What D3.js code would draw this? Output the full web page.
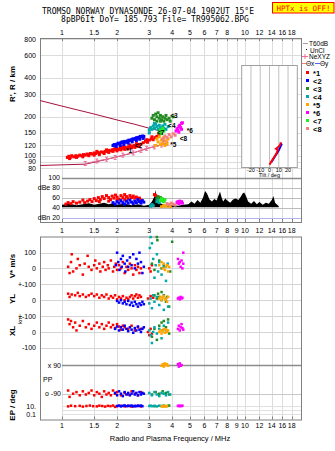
<!DOCTYPE html>
<html>
<head>
<meta charset="utf-8">
<script src="https://cdn.jsdelivr.net/npm/d3@7"></script>
<style>
  body { margin: 0; background: #fff; }
  svg { display: block; font-family: "Liberation Sans", Arial, sans-serif; }
</style>
</head>
<body>
<svg id="chart" width="335" height="451"></svg>
<script>
// ---- axis ticks ----
const freqTicksTop = [1, 1.5, 2, 3, 4, 5, 6, 7, 8, 10, 12, 14, 16, 18];
const freqTicks = [1, 1.5, 2, 3, 4, 5, 6, 7, 8, 9, 10, 12, 14, 16, 18];
const heightTicks = [800, 600, 400, 300, 200, 150, 120, 100, 90, 80];
const dbTicks = [{ v: 100, t: "100" }, { v: 80, t: "dBe 80" }, { v: 60, t: "60" }, { v: 40, t: "40" }, { v: 20, t: "dBn 20" }];
const tiltTicks = [-20, -10, 0, 10, 20];

// ---- model lines (freq MHz, height km) ----
const upperModel = [[0.76, 267], [1, 242], [1.5, 210], [2, 189], [2.5, 175], [3, 163], [3.4, 156]];
const lowerModel = [[0.76, 84], [1.34, 86], [1.55, 90], [2, 98], [2.5, 106], [3, 115], [3.5, 121], [3.8, 126]];
const neXYZ = [[1.34, 87], [1.55, 91], [1.75, 94], [1.95, 97], [2.15, 101], [2.45, 105], [2.7, 110], [2.9, 114], [3.2, 117], [3.5, 121], [3.75, 125]];

// ---- tilt inset (deg, height km) ----
const tiltRed = [[0, 85], [2, 90], [4, 95], [6, 100], [8, 106], [9, 111], [7, 113], [9, 116], [11, 120], [12, 124], [12, 127]];
const tiltBlue = [[2, 89], [4, 94], [6, 99], [8, 104], [10, 110], [11, 114], [12, 118], [13, 122], [12, 125]];

// ---- amplitude trace (freq, dB) ----
const noiseTrace = [[1.0, 46], [1.1, 48], [1.2, 45], [1.3, 47], [1.4, 49], [1.5, 46], [1.6, 48], [1.7, 50], [1.8, 47], [1.9, 49], [2.0, 46], [2.2, 48], [2.4, 45], [2.6, 47], [2.8, 44], [3.0, 46], [3.1, 52], [3.2, 62], [3.25, 75], [3.3, 58], [3.4, 50], [3.6, 46], [3.8, 44], [4.0, 45], [4.3, 44], [4.6, 46], [4.9, 47], [5.1, 52], [5.3, 48], [5.5, 55], [5.7, 50], [5.9, 60], [6.05, 73], [6.2, 68], [6.4, 56], [6.6, 52], [6.8, 57], [7.0, 54], [7.2, 66], [7.3, 72], [7.45, 60], [7.6, 52], [7.8, 58], [8.0, 54], [8.3, 50], [8.6, 56], [8.9, 58], [9.2, 55], [9.5, 62], [9.7, 68], [9.9, 70], [10.1, 64], [10.4, 52], [10.8, 48], [11.2, 53], [11.6, 47], [12.0, 51], [12.5, 46], [13.0, 50], [13.5, 48], [14.0, 55], [14.3, 63], [14.6, 50], [15.0, 46], [15.3, 43]];
const noiseFloor = 41;

// ---- echo classes: height (km) ----
const c1_h = [[1.07, 97], [1.09, 99], [1.11, 97], [1.13, 100], [1.16, 98], [1.19, 100], [1.22, 99], [1.25, 101], [1.28, 100], [1.31, 102], [1.34, 101], [1.37, 103], [1.4, 102], [1.43, 104], [1.46, 103], [1.5, 105], [1.53, 104], [1.57, 106], [1.6, 105], [1.64, 107], [1.68, 106], [1.72, 108], [1.76, 108], [1.8, 110], [1.84, 109], [1.88, 111], [1.92, 112], [1.96, 111], [2.0, 113], [2.04, 112], [2.08, 114], [2.12, 115], [2.16, 114], [2.2, 116], [2.25, 115], [2.3, 117], [2.35, 118], [2.4, 117], [2.45, 119], [2.5, 120], [2.55, 119], [2.6, 122], [2.65, 121], [2.7, 123], [2.78, 126], [2.86, 129], [2.93, 127], [3.0, 132], [3.08, 135], [3.15, 133], [3.22, 138], [3.3, 141], [3.38, 146], [3.45, 150], [1.1, 95], [1.2, 97], [1.3, 98], [1.4, 100], [1.5, 101], [1.6, 102], [1.7, 104], [1.8, 106], [1.9, 108], [2.0, 109], [2.1, 111], [2.2, 112], [2.3, 113], [2.4, 115], [2.5, 116], [2.6, 118], [1.55, 108], [1.75, 111], [1.95, 115], [2.15, 118], [2.35, 121], [2.55, 124], [2.9, 133], [3.1, 140]];
const c2_h = [[1.9, 120], [1.93, 122], [1.96, 121], [2.0, 123], [2.03, 125], [2.06, 124], [2.1, 126], [2.13, 128], [2.16, 127], [2.2, 129], [2.24, 127], [2.28, 130], [2.32, 132], [2.36, 131], [2.4, 133], [2.44, 135], [2.48, 134], [2.52, 136], [2.56, 138], [2.6, 137], [2.64, 139], [2.68, 141], [2.72, 140], [2.76, 142], [2.8, 141], [1.98, 118], [2.08, 120], [2.18, 122], [2.3, 125], [2.42, 128], [2.55, 131], [2.66, 134], [2.78, 136]];
const c3_h = [[3.1, 195], [3.15, 205], [3.2, 190], [3.25, 210], [3.3, 200], [3.35, 215], [3.4, 195], [3.45, 205], [3.5, 190], [3.55, 200], [3.6, 185], [3.65, 195], [3.7, 205], [3.75, 190], [3.85, 195], [3.9, 185], [3.3, 185], [3.45, 185], [4.05, 200]];
const c4_h = [[3.0, 158], [3.05, 165], [3.1, 160], [3.15, 170], [3.2, 163], [3.25, 175], [3.3, 168], [3.35, 160], [3.4, 172], [3.45, 165], [3.5, 158], [3.55, 170], [3.6, 163], [3.65, 175], [3.7, 160], [3.8, 168], [3.0, 150], [3.2, 178]];
const c5_h = [[3.3, 135], [3.35, 128], [3.4, 140], [3.45, 122], [3.5, 132], [3.55, 125], [3.6, 138], [3.65, 120], [3.7, 130], [3.75, 124], [3.8, 135], [3.25, 120]];
const c6_h = [[4.2, 155], [4.25, 162], [4.3, 158], [4.35, 168], [4.4, 172], [4.45, 165], [4.5, 178], [4.55, 180], [4.35, 152], [4.5, 160]];
const c7_h = [[3.4, 150], [3.45, 158], [3.5, 148], [3.55, 162], [3.6, 155]];
const c8_h = [[3.55, 135], [3.65, 142], [3.75, 138], [3.85, 146], [3.95, 140], [4.05, 148], [4.15, 144], [3.6, 130]];

// ---- echo classes: amplitude (dB) ----
const c1_db = [[1.05, 47], [1.08, 50], [1.12, 48], [1.15, 52], [1.2, 49], [1.25, 51], [1.3, 55], [1.33, 50], [1.38, 53], [1.42, 56], [1.46, 52], [1.5, 58], [1.54, 54], [1.58, 60], [1.62, 56], [1.66, 62], [1.7, 58], [1.75, 64], [1.8, 60], [1.84, 56], [1.88, 63], [1.92, 59], [1.96, 65], [2.0, 61], [2.05, 57], [2.1, 64], [2.15, 60], [2.2, 66], [2.25, 62], [2.3, 58], [2.35, 64], [2.4, 60], [2.45, 63], [2.5, 59], [2.55, 61], [2.6, 57], [2.65, 59], [2.7, 55], [3.2, 66], [3.25, 64], [1.6, 52], [1.8, 53], [2.0, 55], [2.2, 56]];
const c2_db = [[1.9, 50], [1.95, 47], [2.0, 52], [2.05, 49], [2.1, 54], [2.15, 50], [2.2, 47], [2.25, 53], [2.3, 49], [2.35, 55], [2.4, 51], [2.45, 48], [2.5, 53], [2.55, 50], [2.6, 56], [2.65, 52], [2.7, 49], [2.75, 54], [2.8, 51]];
const c3_db = [[3.3, 58], [3.35, 62], [3.4, 56], [3.45, 60], [3.5, 54], [3.55, 57], [3.6, 52]];
const c4_db = [[3.05, 43], [3.1, 46], [3.15, 44], [3.3, 52], [3.35, 55], [3.4, 50]];
const c5_db = [[3.5, 42], [3.6, 44], [3.7, 43], [3.8, 45], [3.9, 42]];
const c6_db = [[4.25, 50], [4.3, 52], [4.35, 48], [4.4, 53], [4.45, 50], [4.5, 52], [4.55, 49]];
const c7_db = [[3.45, 54], [3.5, 58], [3.55, 55], [3.6, 52], [3.65, 56]];
const c8_db = [[3.75, 48], [3.85, 46], [3.95, 49], [4.05, 47], [4.15, 45]];

// ---- echo classes: V* (m/s) ----
const c1_v = [[1.08, 10], [1.1, -30], [1.12, 40], [1.13, 90], [1.15, -20], [1.2, 0], [1.22, 60], [1.25, 20], [1.3, -40], [1.33, 30], [1.38, 80], [1.4, 10], [1.45, -10], [1.5, 20], [1.52, 50], [1.55, 0], [1.6, 30], [1.62, -20], [1.67, 10], [1.7, 40], [1.73, -10], [1.78, 20], [1.8, 0], [1.85, 50], [1.9, -20], [1.93, 10], [1.97, 30], [2.0, -10], [2.05, 20], [2.1, 0], [2.15, 40], [2.2, -30], [2.25, 10], [2.3, -10], [2.35, 30], [2.4, 0], [2.45, -40], [2.5, 20], [2.55, -10], [2.6, 10], [2.65, -30], [2.7, 0], [3.0, 0], [3.05, -20], [3.1, 20]];
const c2_v = [[1.97, 20], [2.0, 100], [2.03, 40], [2.06, -10], [2.1, 60], [2.12, 10], [2.15, 80], [2.2, 30], [2.22, -20], [2.27, 50], [2.3, 10], [2.35, 70], [2.4, 20], [2.45, 90], [2.5, 0], [2.55, 60], [2.6, 30], [2.65, 100], [2.7, 40], [2.75, -30], [2.8, 10]];
const c3_v = [[3.1, 30], [3.2, -10], [3.3, 200], [3.32, 180], [3.4, 50], [3.5, 0], [3.6, 20], [3.9, -20], [4.0, 170]];
const c4_v = [[3.02, 130], [3.05, 200], [3.1, 160], [3.15, 60], [3.2, -60], [3.25, 20], [3.3, 90], [3.35, -20], [3.4, 40], [3.5, -40], [3.6, 10], [3.7, -80], [3.78, 30]];
const c5_v = [[3.4, 20], [3.5, 40], [3.55, 0], [3.6, 30], [3.65, -10], [3.7, 10], [3.75, 20], [3.8, -20], [3.85, 10]];
const c6_v = [[4.3, 60], [4.35, 30], [4.4, 40], [4.45, 10], [4.5, 50], [4.55, 0], [4.6, 30], [4.6, 100]];

// ---- echo classes: YL (km) ----
const c1_yl = [[1.08, 40], [1.1, 20], [1.13, 35], [1.18, 30], [1.22, 45], [1.25, 25], [1.3, 35], [1.35, 20], [1.4, 30], [1.45, 40], [1.5, 25], [1.55, 35], [1.6, 15], [1.65, 30], [1.7, 20], [1.75, 35], [1.8, 10], [1.85, 25], [1.9, 15], [1.95, 30], [2.0, 5], [2.05, 20], [2.1, 10], [2.15, 25], [2.2, 0], [2.25, 15], [2.3, 5], [2.35, 20], [2.4, 30], [2.45, 10], [2.5, 25], [2.55, 35], [2.6, 15], [2.65, 30], [2.7, 20], [2.95, 10], [3.05, 25], [3.15, 15]];
const c2_yl = [[2.0, -5], [2.05, -15], [2.1, 0], [2.15, -20], [2.2, -10], [2.25, -25], [2.3, -5], [2.35, -30], [2.4, -15], [2.45, -35], [2.5, -10], [2.55, -25], [2.6, -40], [2.65, -20], [2.7, -30], [2.75, -10], [2.8, -25]];
const c3_yl = [[3.2, 30], [3.3, 10], [3.35, 40], [3.4, 20], [3.5, 50], [3.6, 30], [3.7, -10], [3.75, 20], [3.85, -40]];
const c4_yl = [[3.0, -20], [3.05, 10], [3.1, -50], [3.15, 30], [3.2, -10], [3.3, 20], [3.4, -30], [3.5, 0], [3.6, -60], [3.7, 10], [3.8, -40]];
const c5_yl = [[3.4, 10], [3.45, 20], [3.5, 0], [3.55, 15], [3.6, 25], [3.65, 5], [3.7, 10], [3.75, -10], [3.8, 20]];
const c6_yl = [[4.3, 10], [4.35, 15], [4.4, 5], [4.45, 20], [4.5, 10], [4.55, 15]];

// ---- echo classes: XL (km) ----
const c1_xl = [[1.08, 80], [1.1, 50], [1.12, 70], [1.15, 30], [1.18, 60], [1.2, 10], [1.25, 40], [1.3, 70], [1.35, 30], [1.4, 50], [1.45, 20], [1.5, 40], [1.55, 60], [1.6, 30], [1.65, 50], [1.7, 20], [1.75, 40], [1.8, 60], [1.85, 30], [1.9, 45], [1.95, 25], [2.0, 50], [2.05, 35], [2.1, 15], [2.15, 40], [2.2, 30], [2.3, 20], [2.4, 40], [2.5, 10], [2.6, 30], [2.7, 20], [2.95, 0], [3.0, -20], [3.05, 20], [3.1, -10]];
const c2_xl = [[1.95, 20], [2.0, 35], [2.05, 10], [2.1, 30], [2.15, 15], [2.2, 40], [2.25, 20], [2.3, 5], [2.35, 30], [2.4, 15], [2.45, -5], [2.5, 25], [2.55, 10], [2.6, 35], [2.65, 15], [2.7, 0], [2.75, 20], [2.8, 30]];
const c3_xl = [[3.1, -30], [3.2, 20], [3.3, -50], [3.4, 40], [3.5, 60], [3.55, 10], [3.6, 70], [3.7, 30], [3.8, 80], [3.85, -10]];
const c4_xl = [[3.0, 10], [3.05, -20], [3.1, -70], [3.15, 0], [3.2, 30], [3.3, -10], [3.4, 20], [3.5, -40], [3.6, 40], [3.7, 10], [3.8, 60]];
const c5_xl = [[3.4, 0], [3.45, 10], [3.5, -10], [3.55, 5], [3.6, 20], [3.65, -5], [3.7, 15], [3.75, 0], [3.8, 10]];
const c6_xl = [[4.3, 20], [4.35, 40], [4.4, 10], [4.45, 30], [4.5, 50], [4.55, 25], [4.6, 15]];

// ---- echo classes: polarization PP (deg) ----
const c1_pp = [[1.08, -70], [1.1, -110], [1.15, -90], [1.2, -80], [1.25, -100], [1.3, -75], [1.35, -95], [1.4, -85], [1.45, -70], [1.5, -100], [1.55, -80], [1.6, -90], [1.65, -110], [1.7, -75], [1.75, -95], [1.8, -85], [1.85, -100], [1.9, -70], [1.95, -90], [2.0, -80], [2.1, -100], [2.2, -85], [2.3, -95], [2.4, -75], [2.5, -90], [2.6, -100], [2.7, -80]];
const c2_pp = [[1.95, -85], [2.0, -100], [2.05, -75], [2.1, -90], [2.15, -105], [2.2, -80], [2.25, -95], [2.3, -85], [2.35, -100], [2.4, -90], [2.45, -75], [2.5, -95], [2.55, -85], [2.6, -100], [2.65, -80], [2.7, -95], [2.75, -85], [2.8, -90]];
const c3_pp = [[3.1, -95], [3.25, -80], [3.4, -90], [3.55, -75], [3.7, -85], [3.85, -95]];
const c4_pp = [[3.0, -85], [3.1, -100], [3.2, -80], [3.3, -95], [3.4, -105], [3.5, -85], [3.6, -90], [3.7, -100], [3.8, -80], [3.9, -95]];
const c5_pp = [[3.5, 85], [3.55, 95], [3.6, 80], [3.65, 100], [3.7, 90], [3.75, 95], [3.8, 85]];
const c6_pp = [[4.3, 95], [4.35, 80], [4.4, 100], [4.45, 85], [4.5, 90]];

// ---- echo classes: EP (deg) ----
const c1_ep = [[1.08, 8], [1.12, 12], [1.18, 9], [1.25, 11], [1.3, 7], [1.36, 10], [1.42, 13], [1.48, 9], [1.55, 8], [1.6, 12], [1.66, 10], [1.72, 7], [1.78, 11], [1.84, 9], [1.9, 13], [1.95, 6], [2.0, 9], [2.1, 11], [2.2, 8], [2.3, 10], [2.4, 7], [2.5, 9], [2.6, 11], [2.7, 8]];
const c2_ep = [[2.0, 10], [2.05, 13], [2.1, 8], [2.15, 11], [2.2, 14], [2.25, 9], [2.3, 12], [2.35, 10], [2.4, 13], [2.45, 8], [2.5, 11], [2.55, 9], [2.6, 12], [2.65, 10], [2.7, 13], [2.75, 9]];
const c3_ep = [[3.2, 9], [3.6, 12], [3.75, 10], [3.85, 13]];
const c4_ep = [[3.0, 10], [3.05, 12], [3.1, 9], [3.2, 11], [3.3, 8], [3.4, 12], [3.5, 10]];
const c5_ep = [[3.5, 8], [3.55, 10], [3.6, 7], [3.65, 9], [3.7, 8], [3.75, 10]];
const c6_ep = [[4.3, 10], [4.35, 12], [4.4, 9], [4.45, 11], [4.5, 10], [4.55, 12]];

const labels = [
  { t: "*1", f: 2.24, h: 110 }, { t: "<2", f: 2.5, h: 119 }, { t: "<3", f: 3.9, h: 205 },
  { t: "<4", f: 3.8, h: 172 }, { t: "<7", f: 3.3, h: 150 }, { t: "*5", f: 3.9, h: 122 },
  { t: "<8", f: 4.4, h: 136 }, { t: "*6", f: 4.8, h: 158 }
];

const classes = [
  { name: "*1", color: "#ff0000", h: c1_h, db: c1_db, v: c1_v, yl: c1_yl, xl: c1_xl, pp: c1_pp, ep: c1_ep },
  { name: "<2", color: "#0000ff", h: c2_h, db: c2_db, v: c2_v, yl: c2_yl, xl: c2_xl, pp: c2_pp, ep: c2_ep },
  { name: "<3", color: "#228b22", h: c3_h, db: c3_db, v: c3_v, yl: c3_yl, xl: c3_xl, pp: c3_pp, ep: c3_ep },
  { name: "<4", color: "#00a8a8", h: c4_h, db: c4_db, v: c4_v, yl: c4_yl, xl: c4_xl, pp: c4_pp, ep: c4_ep },
  { name: "*5", color: "#ffa500", h: c5_h, db: c5_db, v: c5_v, yl: c5_yl, xl: c5_xl, pp: c5_pp, ep: c5_ep },
  { name: "*6", color: "#ff00ff", h: c6_h, db: c6_db, v: c6_v, yl: c6_yl, xl: c6_xl, pp: c6_pp, ep: c6_ep },
  { name: "<7", color: "#22ee22", h: c7_h, db: c7_db, v: [], yl: [], xl: [], pp: [], ep: [] },
  { name: "<8", color: "#f08080", h: c8_h, db: c8_db, v: [], yl: [], xl: [], pp: [], ep: [] }
];

// ---- scales ----
const svg = d3.select("#chart");
const left = 40, right = 301;
const x = d3.scaleLog().domain([1, 10]).range([62, 245]);
const hY = d3.scaleLog().domain([100, 800]).range([155.7, 39]);
const dbY = d3.scaleLinear().domain([20, 100]).range([217.7, 177.5]);
const vY = d3.scaleLinear().domain([-100, 100]).range([284, 252.7]);
const ylY = d3.scaleLinear().domain([-100, 100]).range([316.3, 284]);
const xlY = d3.scaleLinear().domain([-100, 100]).range([347.7, 316.3]);
const ppY = d3.scaleLinear().domain([-90, 90]).range([393.7, 365]);
const epY = d3.scaleLog().domain([0.1, 10]).range([414, 406]);
const tiltX = d3.scaleLinear().domain([-30, 30]).range([241.7, 297.3]);

const topPanel = { y0: 38, y1: 222 };
const lowPanel = { y0: 236.5, y1: 419.5 };

// ---- title ----
svg.append("text").attr("x", 148).attr("y", 13.5).attr("text-anchor", "middle")
  .style("font-family", "DejaVu Sans Mono").style("font-size", "8px")
  .text("TROMSO NORWAY   DYNASONDE 26-07-04 1902UT 15°E");
svg.append("text").attr("x", 155).attr("y", 21.5).attr("text-anchor", "middle")
  .style("font-family", "DejaVu Sans Mono").style("font-size", "8px")
  .text("8pBP6It DoY= 185.793 File= TR995062.BPG");
svg.append("rect").attr("x", 272.5).attr("y", 2.5).attr("width", 61.5).attr("height", 10.5)
  .attr("fill", "#ffff00").attr("stroke", "#ff0000").attr("stroke-width", 1);
svg.append("text").attr("x", 303.5).attr("y", 10.5).attr("text-anchor", "middle")
  .style("font-family", "DejaVu Sans Mono").style("font-size", "7.5px").attr("fill", "#ff0000")
  .text("HPTx is OFF!");

// ---- grids ----
const grid = svg.append("g").attr("stroke", "#dcdcdc").attr("stroke-width", 1);
grid.selectAll(".vt").data(freqTicks).enter().append("line")
  .attr("x1", (d) => Math.round(x(d)) + 0.5).attr("x2", (d) => Math.round(x(d)) + 0.5)
  .attr("y1", topPanel.y0).attr("y2", topPanel.y1);
grid.selectAll(".vb").data(freqTicks).enter().append("line")
  .attr("x1", (d) => Math.round(x(d)) + 0.5).attr("x2", (d) => Math.round(x(d)) + 0.5)
  .attr("y1", lowPanel.y0).attr("y2", lowPanel.y1);
grid.selectAll(".h").data(heightTicks).enter().append("line")
  .attr("x1", left).attr("x2", right)
  .attr("y1", (d) => Math.round(hY(d)) + 0.5).attr("y2", (d) => Math.round(hY(d)) + 0.5);

// dB panel lines
svg.selectAll(".dbl").data(dbTicks).enter().append("line")
  .attr("x1", 62).attr("x2", right)
  .attr("y1", (d) => Math.round(dbY(d.v)) + 0.5).attr("y2", (d) => Math.round(dbY(d.v)) + 0.5)
  .attr("stroke", (d) => d.v === 100 ? "#8c8c8c" : d.v === 20 ? "#b4b4ee" : "#bcbcbc")
  .attr("stroke-width", (d) => d.v === 100 ? 1.5 : 1);

// lower panel lines
const lowLines = [vY(100), vY(0), vY(-100), ylY(0), ylY(-100), xlY(0), xlY(-100)];
svg.selectAll(".ll").data(lowLines).enter().append("line")
  .attr("x1", left).attr("x2", right)
  .attr("y1", (d) => Math.round(d) + 0.5).attr("y2", (d) => Math.round(d) + 0.5)
  .attr("stroke", "#d4d4d4");
svg.append("line").attr("x1", 62).attr("x2", right).attr("y1", Math.round(ppY(90)) + 0.5).attr("y2", Math.round(ppY(90)) + 0.5)
  .attr("stroke", "#8c8c8c").attr("stroke-width", 1.5);
svg.append("line").attr("x1", 62).attr("x2", right).attr("y1", Math.round(ppY(-90)) + 0.5).attr("y2", Math.round(ppY(-90)) + 0.5)
  .attr("stroke", "#c8c8c8");
[10, 1, 0.1].forEach((d) => {
  svg.append("line").attr("x1", 62).attr("x2", right).attr("y1", Math.round(epY(d)) + 0.5).attr("y2", Math.round(epY(d)) + 0.5)
    .attr("stroke", "#e0e0e0");
});

// ---- frames ----
svg.append("rect").attr("x", left + 0.5).attr("y", topPanel.y0 + 0.5)
  .attr("width", right - left).attr("height", topPanel.y1 - topPanel.y0)
  .attr("fill", "none").attr("stroke", "#808080");
svg.append("rect").attr("x", left + 0.5).attr("y", lowPanel.y0 + 0.5)
  .attr("width", right - left).attr("height", lowPanel.y1 - lowPanel.y0)
  .attr("fill", "none").attr("stroke", "#808080");

// ---- frequency tick labels ----
const tickFont = "7px";
svg.selectAll(".ft").data(freqTicksTop).enter().append("text")
  .attr("x", (d) => x(d)).attr("y", 35).attr("text-anchor", "middle")
  .style("font-size", tickFont).text((d) => d);
[232.5, 427.5].forEach((yy) => {
  svg.selectAll(null).data(freqTicks).enter().append("text")
    .attr("x", (d) => x(d)).attr("y", yy).attr("text-anchor", "middle")
    .style("font-size", tickFont).text((d) => d);
});
[topPanel.y0, topPanel.y1 - 3, lowPanel.y1 - 3].forEach((yy) => {
  svg.selectAll(null).data(freqTicks).enter().append("line")
    .attr("x1", (d) => Math.round(x(d)) + 0.5).attr("x2", (d) => Math.round(x(d)) + 0.5)
    .attr("y1", yy).attr("y2", yy + 3).attr("stroke", "#808080");
});

// ---- height labels ----
svg.selectAll(".hl").data(heightTicks).enter().append("text")
  .attr("x", 36).attr("y", (d) => hY(d) + 2.5).attr("text-anchor", "end")
  .style("font-size", tickFont).text((d) => d);
svg.append("text").attr("transform", "translate(15,84) rotate(-90)").attr("text-anchor", "middle")
  .style("font-size", "8px").style("font-weight", "bold").text("R', R / km");

svg.selectAll(".dbt").data(dbTicks).enter().append("text")
  .attr("x", 60).attr("y", (d) => dbY(d.v) + 2.5).attr("text-anchor", "end")
  .style("font-size", tickFont).text((d) => d.t);

// ---- lower labels ----
const lowLabels = [
  { y: vY(100), t: "100" }, { y: vY(0), t: "0" }, { y: vY(-100), t: "+-100" },
  { y: ylY(0), t: "0" }, { y: ylY(-100), t: "+-100" }, { y: xlY(0), t: "0" }, { y: xlY(-100), t: "-100" },
  { y: epY(10), t: "10." }, { y: epY(0.1), t: "0.1" }
];
svg.selectAll(".lwl").data(lowLabels).enter().append("text")
  .attr("x", 36).attr("y", (d) => d.y + 2.5).attr("text-anchor", "end")
  .style("font-size", tickFont).text((d) => d.t);
svg.append("text").attr("x", 61).attr("y", ppY(90) + 2.5).attr("text-anchor", "end").style("font-size", tickFont).text("x 90");
svg.append("text").attr("x", 61).attr("y", ppY(-90) + 2.5).attr("text-anchor", "end").style("font-size", tickFont).text("o -90");
svg.append("text").attr("x", 43).attr("y", 382).style("font-size", tickFont).text("PP");

const rotLabels = [
  { x: 15, y: 266, t: "V* m/s" }, { x: 15, y: 299, t: "YL" },
  { x: 15, y: 331, t: "XL" }, { x: 22, y: 320, t: "km" }, { x: 15, y: 405, t: "EP / deg" }
];
svg.selectAll(".rl").data(rotLabels).enter().append("text")
  .attr("transform", (d) => `translate(${d.x},${d.y}) rotate(-90)`).attr("text-anchor", "middle")
  .style("font-size", (d) => d.t === "km" ? "6px" : "8px").style("font-weight", (d) => d.t === "km" ? "normal" : "bold")
  .text((d) => d.t);

svg.append("text").attr("x", 170).attr("y", 441).attr("text-anchor", "middle")
  .style("font-size", "7.5px").text("Radio and Plasma Frequency / MHz");

// ---- model lines ----
const hLine = d3.line().x((d) => x(d[0])).y((d) => hY(d[1]));
svg.append("path").attr("d", hLine(upperModel)).attr("fill", "none").attr("stroke", "#a8103c").attr("stroke-width", 1);
svg.append("path").attr("d", hLine(lowerModel)).attr("fill", "none").attr("stroke", "#a8103c").attr("stroke-width", 1);
svg.append("path").attr("d", hLine(neXYZ)).attr("fill", "none").attr("stroke", "#e8709a").attr("stroke-width", 1);
svg.selectAll(".nx").data(neXYZ).enter().append("path")
  .attr("d", (d) => { const px = x(d[0]), py = hY(d[1]); return `M${px - 1.5},${py - 2}H${px + 1.5}M${px},${py - 2}V${py + 2}M${px - 1.5},${py + 2}H${px + 1.5}`; })
  .attr("stroke", "#e8709a").attr("fill", "none");

// ---- amplitude trace ----
const area = d3.area().x((d) => x(d[0])).y0(dbY(noiseFloor)).y1((d) => dbY(d[1]));
svg.append("path").attr("d", area(noiseTrace)).attr("fill", "#000");

// ---- echo points ----
const panels = [
  { key: "h", y: hY, s: 3 }, { key: "db", y: dbY, s: 3 }, { key: "v", y: vY, s: 2.5 },
  { key: "yl", y: ylY, s: 2.5 }, { key: "xl", y: xlY, s: 2.5 }, { key: "pp", y: ppY, s: 2.5 }, { key: "ep", y: epY, s: 2.5 }
];
panels.forEach((p) => {
  classes.forEach((c) => {
    svg.append("g").selectAll("rect").data(c[p.key]).enter().append("rect")
      .attr("x", (d) => x(d[0]) - p.s / 2).attr("y", (d) => p.y(d[1]) - p.s / 2)
      .attr("width", p.s).attr("height", p.s).attr("fill", c.color);
  });
});

svg.selectAll(".lab").data(labels).enter().append("text")
  .attr("x", (d) => x(d.f)).attr("y", (d) => hY(d.h) + 2.5)
  .style("font-size", "6.5px").style("font-weight", "bold").text((d) => d.t);

// ---- tilt inset ----
const inset = svg.append("g");
inset.append("rect").attr("x", tiltX(-30)).attr("y", 65.5).attr("width", tiltX(30) - tiltX(-30)).attr("height", 102)
  .attr("fill", "#fff").attr("stroke", "#a0a0a0");
inset.selectAll("line").data(tiltTicks).enter().append("line")
  .attr("x1", (d) => tiltX(d)).attr("x2", (d) => tiltX(d)).attr("y1", 66).attr("y2", 167)
  .attr("stroke", "#c0c0c0");
inset.selectAll("text").data(tiltTicks).enter().append("text")
  .attr("x", (d) => tiltX(d)).attr("y", 172).attr("text-anchor", "middle")
  .style("font-size", "5.5px").text((d) => d);
inset.append("text").attr("x", tiltX(0)).attr("y", 177).attr("text-anchor", "middle").style("font-size", "5.5px").text("Tilt / deg");
const tLine = d3.line().x((d) => tiltX(d[0])).y((d) => hY(d[1]));
inset.append("path").attr("d", tLine(tiltBlue)).attr("fill", "none").attr("stroke", "#0000ff").attr("stroke-width", 2);
inset.append("path").attr("d", tLine(tiltRed)).attr("fill", "none").attr("stroke", "#ff0000").attr("stroke-width", 2);

// ---- legend ----
const lg = svg.append("g").style("font-size", "6.5px");
lg.append("line").attr("x1", 303).attr("x2", 308).attr("y1", 43.5).attr("y2", 43.5).attr("stroke", "#a0a0a0");
lg.append("text").attr("x", 309).attr("y", 46).text("T60dB");
lg.append("rect").attr("x", 306).attr("y", 49).attr("width", 1).attr("height", 1).attr("fill", "#000");
lg.append("text").attr("x", 310).attr("y", 52.5).text("UnCl");
lg.append("path").attr("d", "M302,56.5H308M305,54V59").attr("stroke", "#e8709a");
lg.append("text").attr("x", 309).attr("y", 59).text("NeXYZ");
lg.append("line").attr("x1", 302).attr("x2", 306).attr("y1", 63.5).attr("y2", 63.5).attr("stroke", "#f08080");
lg.append("text").attr("x", 306).attr("y", 66).text("Θx");
lg.append("line").attr("x1", 315).attr("x2", 320).attr("y1", 63.5).attr("y2", 63.5).attr("stroke", "#6060ff");
lg.append("text").attr("x", 320).attr("y", 66).text("Θy");
classes.forEach((c, i) => {
  const yy = 73 + i * 8;
  lg.append("rect").attr("x", 306).attr("y", yy - 2).attr("width", 3).attr("height", 3).attr("fill", c.color);
  lg.append("text").attr("x", 313).attr("y", yy + 2.5).style("font-size", "7.5px").style("font-weight", "bold").text(c.name);
});
</script>
</body>
</html>
